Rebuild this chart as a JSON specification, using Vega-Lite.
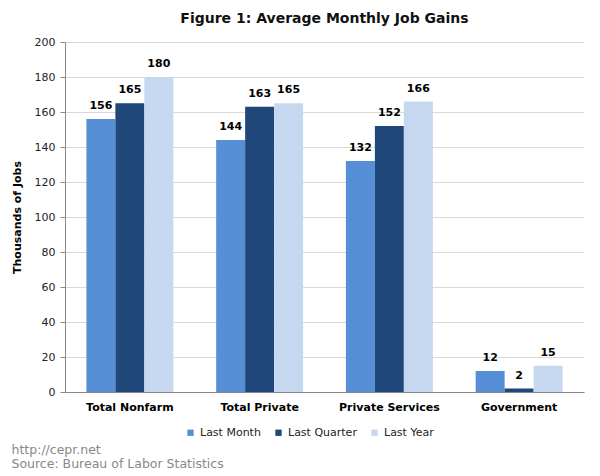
{
  "$schema": "https://vega.github.io/schema/vega-lite/v6.json",
  "background": "white",
  "padding": {"left": 11, "top": 12, "right": 17, "bottom": 6},
  "config": {"font": "DejaVu Sans", "view": {"stroke": null}},
  "title": {"text": ["http://cepr.net", "Source: Bureau of Labor Statistics"], "orient": "bottom", "anchor": "start", "fontSize": 12.5, "fontWeight": "normal", "color": "#888888", "lineHeight": 13.5, "offset": 6},
  "vconcat": [
    {
      "title": {"text": "Figure 1: Average Monthly Job Gains", "fontSize": 14, "fontWeight": "bold", "color": "#111111", "offset": 10, "anchor": "middle"},
      "width": 519,
      "height": 350,
      "data": {"values": [
        {"category": "Total Nonfarm", "period": "Last Month", "value": 156},
        {"category": "Total Nonfarm", "period": "Last Quarter", "value": 165},
        {"category": "Total Nonfarm", "period": "Last Year", "value": 180},
        {"category": "Total Private", "period": "Last Month", "value": 144},
        {"category": "Total Private", "period": "Last Quarter", "value": 163},
        {"category": "Total Private", "period": "Last Year", "value": 165},
        {"category": "Private Services", "period": "Last Month", "value": 132},
        {"category": "Private Services", "period": "Last Quarter", "value": 152},
        {"category": "Private Services", "period": "Last Year", "value": 166},
        {"category": "Government", "period": "Last Month", "value": 12},
        {"category": "Government", "period": "Last Quarter", "value": 2},
        {"category": "Government", "period": "Last Year", "value": 15}
      ]},
      "encoding": {
        "x": {"field": "category", "type": "nominal", "sort": ["Total Nonfarm", "Total Private", "Private Services", "Government"],
          "scale": {"paddingInner": 0.33, "paddingOuter": 0.165},
          "axis": {"title": null, "labelAngle": 0, "labelFontWeight": "bold", "labelFontSize": 11, "labelColor": "#000000", "ticks": false, "domainColor": "#888888", "labelPadding": 9}},
        "xOffset": {"field": "period", "type": "nominal", "sort": ["Last Month", "Last Quarter", "Last Year"], "scale": {"paddingInner": 0, "paddingOuter": 0}},
        "y": {"field": "value", "type": "quantitative", "scale": {"domain": [0, 200], "nice": false},
          "axis": {"title": "Thousands of Jobs", "values": [0, 20, 40, 60, 80, 100, 120, 140, 160, 180, 200], "grid": true, "gridColor": "#d9d9d9", "domainColor": "#888888", "tickColor": "#888888", "tickSize": 5, "labelPadding": 5, "labelFontSize": 11, "labelColor": "#222222", "titleFontSize": 11, "titleFontWeight": "bold", "titleColor": "#000000", "titlePadding": 11.5}}
      },
      "layer": [
        {
          "mark": {"type": "bar"},
          "encoding": {
            "color": {"field": "period", "type": "nominal", "sort": ["Last Month", "Last Quarter", "Last Year"],
              "scale": {"domain": ["Last Month", "Last Quarter", "Last Year"], "range": ["#568fd6", "#1f477a", "#c5d8f0"]},
              "legend": {"title": null, "orient": "none", "direction": "horizontal", "legendX": 120, "legendY": 385, "symbolType": "square", "symbolSize": 40, "symbolStrokeWidth": 0, "labelFontSize": 11, "labelColor": "#222222", "columnPadding": 12, "labelOffset": 4}}
          }
        },
        {
          "mark": {"type": "text", "baseline": "bottom", "dy": -8, "fontWeight": "bold", "fontSize": 11, "color": "#000000"},
          "encoding": {"text": {"field": "value", "type": "quantitative"}}
        }
      ]
    }
  ]
}
